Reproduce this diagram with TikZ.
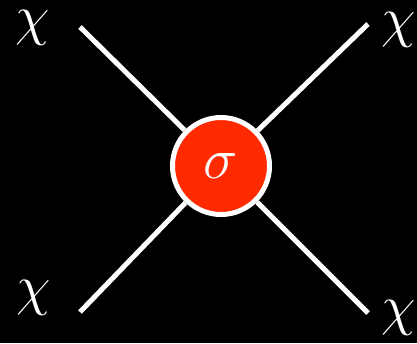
\RequirePackage{fix-cm}
\documentclass[tikz,border=0pt]{standalone}
\begin{document}
\definecolor{sigred}{RGB}{255,42,0}
\begin{tikzpicture}[x=1pt,y=-1pt,
  lbl/.style={text=white, inner sep=0pt, font=\fontsize{56}{60}\selectfont},
  leg/.style={white, line width=5pt}]
\fill[black] (0,0) rectangle (417,343);
\useasboundingbox (0,0) rectangle (417,343);
\node[circle, fill=sigred, draw=white, line width=5pt, minimum size=97pt, inner sep=0pt, text=white, font=\fontsize{58}{60}\selectfont] (s) at (221,166) {$\sigma$};
\coordinate (tl) at (80,27);
\coordinate (tr) at (368,24);
\coordinate (bl) at (80,312);
\coordinate (br) at (368,313);
\draw[leg] (tl) -- (s);
\draw[leg] (tr) -- (s);
\draw[leg] (bl) -- (s);
\draw[leg] (br) -- (s);
\node[lbl] (c1) at (33,28) {$\chi$};
\node[lbl] (c2) at (399,30) {$\chi$};
\node[lbl] (c3) at (34,298) {$\chi$};
\node[lbl] (c4) at (399,318) {$\chi$};
\end{tikzpicture}
\end{document}
